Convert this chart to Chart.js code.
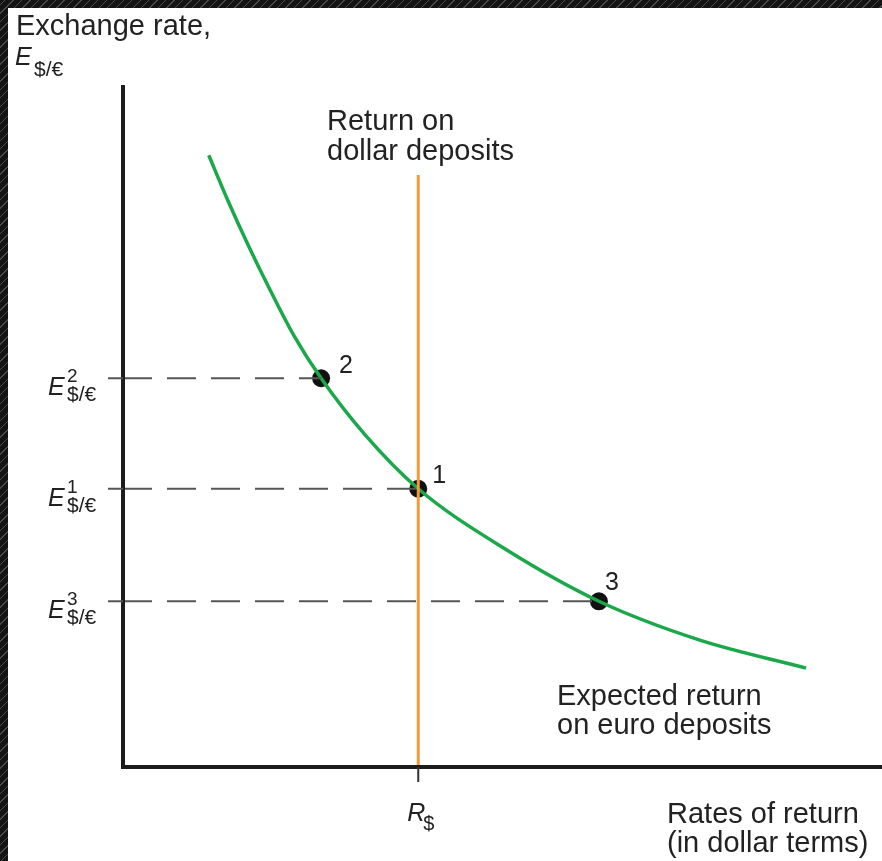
<!DOCTYPE html>
<html>
<head>
<meta charset="utf-8">
<script src="https://cdn.jsdelivr.net/npm/chart.js@4"></script>
<style>
  html, body { margin:0; padding:0; background:#fff; }
  #wrap { position:relative; width:882px; height:861px; overflow:hidden; }
  canvas { position:absolute; left:0; top:0; }
  .hatch { position:absolute; background: repeating-linear-gradient(135deg, #141414 0 3px, #4a4a4a 3px 4px, #141414 4px 6px); }
</style>
</head>
<body>
<div id="wrap">
  <canvas id="c" width="882" height="861"></canvas>
  <div class="hatch" style="left:0;top:0;width:882px;height:8px"></div>
  <div class="hatch" style="left:0;top:0;width:8px;height:861px"></div>
</div>
<script>
// ---- data (abstract units, 0..100 on both axes) ----
const curveX = [11.3, 13.8, 16.5, 19.4, 22.5, 26.1, 31.9, 38.9, 50.3, 62.7, 76.0, 90.0];
const curveY = [89.7, 83.1, 76.5, 69.9, 63.3, 57.0, 48.7, 40.8, 32.0, 24.3, 18.6, 14.5];
const eqLabels = ['2', '1', '3'];
const eqX = [26.1, 38.9, 62.7];
const eqY = [57.0, 40.8, 24.3];
const rDollar = 38.9;
const dollarLineTop = 86.8;
const yTickSup = ['2', '1', '3'];
// label offsets for the numbered points (pixels)
const eqLabelOffset = [[18, -5], [14, -6], [6, -11]];

const GREEN = '#1aa84a', ORANGE = '#f59a38', DARK = '#1c1c1c', DASH = '#555555';
const FONT = '"Liberation Sans", Arial, Helvetica, sans-serif';

const curveData = curveX.map((x, i) => ({x, y: curveY[i]}));
const dashSets = eqX.map((x, i) => ({
  data: [{x: 0, y: eqY[i]}, {x: x, y: eqY[i]}],
  showLine: true, borderColor: DASH, borderWidth: 2, borderDash: [29, 15],
  pointRadius: 0, clip: false
}));

const overlay = {
  id: 'overlay',
  afterDatasetsDraw(chart) {
    const ctx = chart.ctx, xs = chart.scales.x, ys = chart.scales.y;
    const x0 = xs.getPixelForValue(0), y0 = ys.getPixelForValue(0);
    ctx.save();
    // axes
    ctx.strokeStyle = DARK; ctx.lineWidth = 4; ctx.lineCap = 'butt';
    ctx.beginPath();
    ctx.moveTo(x0, ys.getPixelForValue(100)); ctx.lineTo(x0, y0 + 2);
    ctx.moveTo(x0 - 2, y0); ctx.lineTo(xs.getPixelForValue(100), y0);
    ctx.stroke();
    // y ticks
    ctx.strokeStyle = DASH; ctx.lineWidth = 2;
    eqY.forEach(v => {
      const py = ys.getPixelForValue(v);
      ctx.beginPath(); ctx.moveTo(x0 - 15, py); ctx.lineTo(x0, py); ctx.stroke();
    });
    // x tick
    const rx = xs.getPixelForValue(rDollar);
    ctx.strokeStyle = '#333'; ctx.lineWidth = 2;
    ctx.beginPath(); ctx.moveTo(rx, y0); ctx.lineTo(rx, y0 + 15); ctx.stroke();

    ctx.fillStyle = '#222';
    ctx.textBaseline = 'alphabetic';
    ctx.textAlign = 'left';
    // y tick labels E^n_{$/€}
    eqY.forEach((v, i) => {
      const py = ys.getPixelForValue(v);
      ctx.font = 'italic 25px ' + FONT;
      ctx.fillText('E', 48, py + 17);
      ctx.font = '19px ' + FONT;
      ctx.fillText(yTickSup[i], 67, py + 4);
      ctx.font = '21px ' + FONT;
      ctx.fillText('$/€', 67, py + 23);
    });
    // x tick label R_$
    ctx.font = 'italic 25px ' + FONT;
    ctx.fillText('R', rx - 11, y0 + 54);
    ctx.font = '20px ' + FONT;
    ctx.fillText('$', rx + 5, y0 + 63);

    // axis titles
    ctx.font = '29px ' + FONT;
    ctx.fillText('Exchange rate,', 16, 35);
    ctx.font = 'italic 25px ' + FONT;
    ctx.fillText('E', 15, 65);
    ctx.font = '21px ' + FONT;
    ctx.fillText('$/€', 34, 76);
    ctx.font = '29px ' + FONT;
    ctx.fillText('Rates of return', 667, 823);
    ctx.fillText('(in dollar terms)', 667, 852);

    // curve labels
    ctx.fillText('Return on', 327, 130);
    ctx.fillText('dollar deposits', 327, 160);
    ctx.fillText('Expected return', 557, 705);
    ctx.fillText('on euro deposits', 557, 734);

    // point labels
    ctx.font = '25px ' + FONT;
    eqLabels.forEach((t, i) => {
      const px = xs.getPixelForValue(eqX[i]), py = ys.getPixelForValue(eqY[i]);
      ctx.fillText(t, px + eqLabelOffset[i][0], py + eqLabelOffset[i][1]);
    });
    ctx.restore();
  }
};

new Chart(document.getElementById('c'), {
  type: 'scatter',
  data: {
    datasets: [
      ...dashSets,
      {
        data: [{x: rDollar, y: 0}, {x: rDollar, y: dollarLineTop}],
        showLine: true, borderColor: ORANGE, borderWidth: 3, pointRadius: 0, clip: false
      },
      {
        data: curveData, showLine: true, borderColor: GREEN, borderWidth: 3.5,
        cubicInterpolationMode: 'monotone', pointRadius: 0, clip: false
      },
      {
        data: eqX.map((x, i) => ({x, y: eqY[i]})),
        showLine: false, pointRadius: 9, pointBackgroundColor: '#111', pointBorderWidth: 0,
        pointBorderColor: '#111', clip: false
      }
    ]
  },
  options: {
    responsive: false, animation: false, devicePixelRatio: 1,
    layout: { autoPadding: false, padding: { left: 123, top: 85, right: 0, bottom: 94 } },
    scales: {
      x: { type: 'linear', min: 0, max: 100, display: false },
      y: { type: 'linear', min: 0, max: 100, display: false }
    },
    plugins: { legend: { display: false }, tooltip: { enabled: false } }
  },
  plugins: [overlay]
});
</script>
</body>
</html>
